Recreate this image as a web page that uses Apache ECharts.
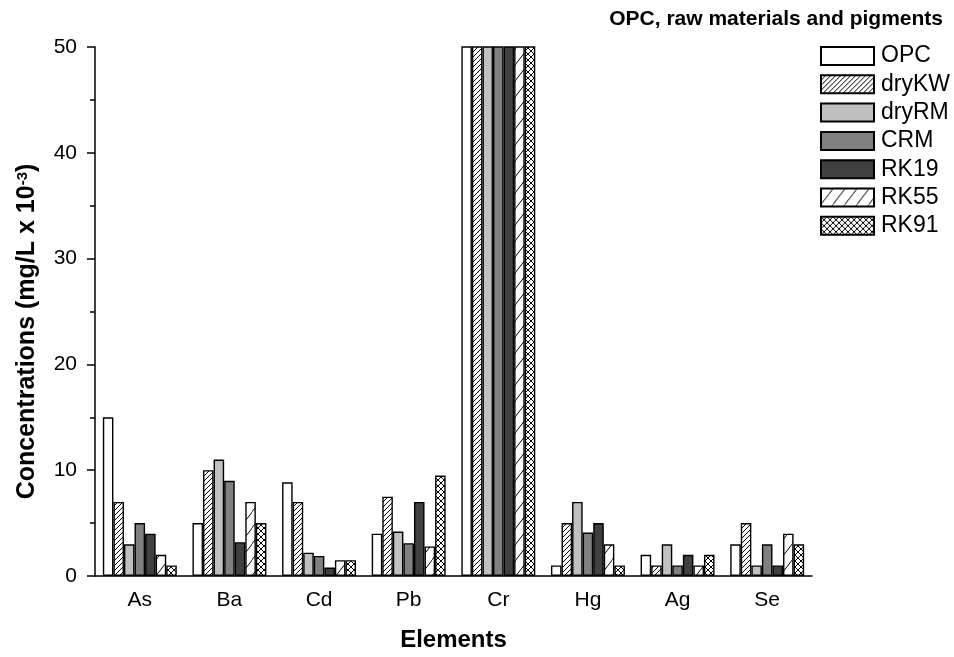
<!DOCTYPE html>
<html>
<head>
<meta charset="utf-8">
<script src="https://cdn.jsdelivr.net/npm/echarts@6/dist/echarts.min.js"></script>
<style>
  html, body { margin: 0; padding: 0; background: #fff; }
  #chart { width: 954px; height: 657px; }
</style>
</head>
<body>
<div id="chart"></div>
<script>
var elements = ['As', 'Ba', 'Cd', 'Pb', 'Cr', 'Hg', 'Ag', 'Se'];
var seriesNames = ['OPC', 'dryKW', 'dryRM', 'CRM', 'RK19', 'RK55', 'RK91'];

// Cr values run off the top of the chart (clipped at 50)
var opc   = [15, 5, 8.85, 4.0, 80, 1, 2, 3];
var dryKW = [7, 10, 7, 7.5, 80, 5, 1, 5];
var dryRM = [3, 11, 2.2, 4.2, 80, 7, 3, 1];
var crm   = [5, 9, 1.9, 3.1, 80, 4.1, 1, 3];
var rk19  = [4, 3.2, 0.8, 7, 80, 5, 2, 1];
var rk55  = [2, 7, 1.5, 2.8, 80, 3, 1, 4];
var rk91  = [1, 5, 1.5, 9.5, 80, 1, 2, 3];

var yTicks = [0, 10, 20, 30, 40, 50];

var font = '"Liberation Sans", Arial, sans-serif';

// hatch patterns drawn into small canvases
function makePattern(w, h, draw) {
  var c = document.createElement('canvas');
  c.width = w; c.height = h;
  var ctx = c.getContext('2d');
  ctx.fillStyle = '#fff';
  ctx.fillRect(0, 0, w, h);
  ctx.strokeStyle = '#000';
  ctx.lineWidth = 1;
  draw(ctx, w, h);
  return { image: c, repeat: 'repeat' };
}
function slash(ctx, w, h) {
  ctx.beginPath();
  ctx.moveTo(-1, h + 1); ctx.lineTo(w + 1, -1);
  ctx.moveTo(-1, 1); ctx.lineTo(1, -1);
  ctx.moveTo(w - 1, h + 1); ctx.lineTo(w + 1, h - 1);
  ctx.stroke();
}
var denseHatch = makePattern(5, 5, slash);
var wideHatch = makePattern(12, 16, slash);
var crossHatch = makePattern(6, 6, function (ctx, w, h) {
  slash(ctx, w, h);
  ctx.beginPath();
  ctx.moveTo(-1, -1); ctx.lineTo(w + 1, h + 1);
  ctx.moveTo(w - 1, -1); ctx.lineTo(w + 1, 1);
  ctx.moveTo(-1, h - 1); ctx.lineTo(1, h + 1);
  ctx.stroke();
});

var fills = ['#ffffff', denseHatch, '#c0c0c0', '#808080', '#404040', wideHatch, crossHatch];
var values = [opc, dryKW, dryRM, crm, rk19, rk55, rk91];

var chart = echarts.init(document.getElementById('chart'));

var series = seriesNames.map(function (name, i) {
  return {
    name: name,
    type: 'bar',
    data: values[i],
    barGap: '0%',
    barCategoryGap: '17.5%',
    clip: true,
    itemStyle: {
      color: fills[i],
      borderColor: '#000',
      borderWidth: 1.4
    },
    emphasis: { disabled: true }
  };
});

var option = {
  animation: false,
  backgroundColor: '#fff',
  title: {
    text: 'OPC, raw materials and pigments',
    right: 6,
    top: 4,
    textStyle: { fontFamily: font, fontSize: 21, fontWeight: 'bold', color: '#000' }
  },
  legend: {
    orient: 'vertical',
    left: 820,
    top: 44.5,
    padding: 0,
    itemWidth: 53,
    itemHeight: 18,
    itemGap: 5.3,
    icon: 'rect',
    data: seriesNames,
    textStyle: { fontFamily: font, fontSize: 23, color: '#000', padding: [0, 0, 0, 2] }
  },
  grid: { left: 95, right: 142, top: 47, bottom: 80 },
  xAxis: [{
    type: 'category',
    data: elements,
    name: 'Elements',
    nameLocation: 'middle',
    nameGap: 52,
    nameTextStyle: { fontFamily: font, fontSize: 24, fontWeight: 'bold', color: '#000' },
    axisLine: { lineStyle: { color: '#000', width: 1.5 } },
    axisTick: { alignWithLabel: true, length: 8, lineStyle: { color: '#000', width: 1.5 } },
    axisLabel: { fontFamily: font, fontSize: 21, color: '#000', margin: 14 }
  }, {
    type: 'category',
    data: elements,
    position: 'bottom',
    axisLine: { show: false },
    axisTick: { length: 4, lineStyle: { color: '#000', width: 1.5 } },
    axisLabel: { show: false }
  }],
  yAxis: {
    type: 'value',
    min: yTicks[0],
    max: yTicks[yTicks.length - 1],
    interval: 10,
    name: 'Concentrations (mg/L x 10{sup|-3})',
    nameLocation: 'middle',
    nameGap: 55,
    nameTextStyle: {
      fontFamily: font, fontSize: 25, fontWeight: 'bold', color: '#000',
      padding: [0, 40, 0, 0],
      rich: {
        sup: { fontFamily: font, fontSize: 15, fontWeight: 'bold', color: '#000', verticalAlign: 'top' }
      }
    },
    axisLine: { show: true, lineStyle: { color: '#000', width: 1.5 } },
    axisTick: { show: true, length: 8, lineStyle: { color: '#000', width: 1.5 } },
    minorTick: { show: true, splitNumber: 2, length: 5, lineStyle: { color: '#000', width: 1.5 } },
    splitLine: { show: false },
    axisLabel: { fontFamily: font, fontSize: 21, color: '#000', margin: 18 }
  },
  series: series
};

chart.setOption(option);
</script>
</body>
</html>
